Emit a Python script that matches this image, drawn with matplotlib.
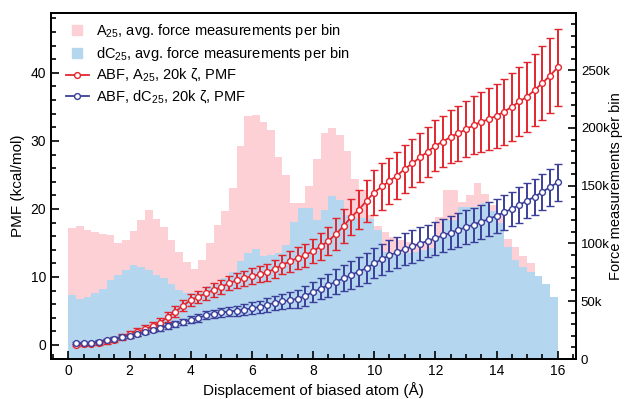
import numpy as np
import matplotlib
matplotlib.use("Agg")
import matplotlib.pyplot as plt
from matplotlib.lines import Line2D
from matplotlib.ticker import MultipleLocator, FuncFormatter

plt.rcParams['font.family'] = ['Liberation Sans', 'DejaVu Sans']
plt.rcParams['mathtext.fontset'] = 'custom'
plt.rcParams['mathtext.rm'] = 'Liberation Sans'

# ---------- data ----------
bin_width = 0.25
bin_left = np.arange(0, 16, bin_width)          # 64 bins, 0 .. 16 A

# avg. force measurements per bin (thousands)
a25_counts_k = [113, 115, 112, 110, 108, 107, 100, 103, 111, 120, 129, 121, 114, 103, 93, 84,
                78, 86, 100, 116, 128, 148, 184, 210, 211, 205, 198, 175, 159, 135, 135, 150,
                173, 196, 200, 194, 180, 156, 146, 125, 115, 110, 106, 103, 101, 100, 101, 103,
                123, 146, 146, 136, 142, 152, 143, 133, 126, 104, 97, 89, 83, 72, 65, 54]
dc25_counts_k = [55, 52, 54, 57, 61, 68, 73, 77, 81, 80, 77, 73, 70, 65, 60, 57,
                 57, 58, 63, 65, 70, 75, 85, 92, 95, 89, 90, 92, 99, 119, 131, 131,
                 120, 129, 141, 138, 125, 122, 122, 121, 112, 93, 92, 92, 92, 93, 94, 96,
                 106, 120, 120, 132, 132, 132, 135, 128, 118, 97, 86, 80, 75, 72, 65, 54]

# PMF points every 0.25 A
pmf_x = np.arange(1, 65) * 0.25
a25_pmf = [0.0, 0.1, 0.2, 0.35, 0.55, 0.8, 1.15, 1.55, 1.9, 2.3, 2.8, 3.3, 4.1, 4.9, 5.8, 6.6,
           7.1, 7.6, 8.1, 8.5, 9.1, 9.5, 9.8, 10.1, 10.4, 10.7, 11.2, 11.8, 12.3, 12.8, 13.2, 13.8,
           14.5, 15.3, 16.3, 17.5, 18.8, 19.9, 21.2, 22.4, 23.3, 24.1, 24.9, 25.9, 26.7, 27.6, 28.4, 29.3,
           29.9, 30.6, 31.1, 31.7, 32.3, 32.8, 33.2, 33.7, 34.3, 35.0, 35.8, 36.5, 37.5, 38.5, 39.6, 40.8]
a25_err = [0.2, 0.2, 0.25, 0.3, 0.35, 0.4, 0.45, 0.5, 0.55, 0.6, 0.65, 0.7, 0.75, 0.8, 0.8, 0.85,
           0.9, 0.95, 1.0, 1.0, 1.05, 1.1, 1.1, 1.15, 1.2, 1.25, 1.3, 1.4, 1.5, 1.6, 1.7, 1.8,
           1.95, 2.1, 2.3, 2.5, 2.7, 2.9, 3.1, 3.3, 3.4, 3.4, 3.45, 3.5, 3.55, 3.6, 3.65, 3.7,
           3.8, 3.9, 4.0, 4.1, 4.25, 4.4, 4.55, 4.7, 4.85, 4.95, 5.05, 5.15, 5.3, 5.4, 5.55, 5.7]
dc25_pmf = [0.25, 0.25, 0.35, 0.5, 0.7, 0.95, 1.15, 1.35, 1.65, 1.9, 2.2, 2.5, 2.8, 3.05, 3.35, 3.7,
            4.0, 4.35, 4.6, 4.8, 4.9, 5.05, 5.2, 5.4, 5.6, 5.9, 6.2, 6.4, 6.6, 6.8, 7.2, 7.8,
            8.3, 8.8, 9.3, 9.8, 10.3, 10.8, 11.3, 12.0, 12.6, 13.2, 13.6, 14.1, 14.5, 14.9, 15.3, 15.7,
            16.1, 16.5, 16.9, 17.3, 17.7, 18.1, 18.5, 19.0, 19.5, 20.0, 20.6, 21.2, 21.8, 22.5, 23.2, 23.9]
dc25_err = [0.15, 0.15, 0.15, 0.2, 0.2, 0.25, 0.25, 0.3, 0.3, 0.35, 0.35, 0.4, 0.4, 0.45, 0.45, 0.5,
            0.55, 0.6, 0.6, 0.65, 0.7, 0.75, 0.8, 0.85, 0.9, 1.0, 1.05, 1.1, 1.2, 1.3, 1.4, 1.5,
            1.6, 1.7, 1.8, 1.9, 2.0, 2.1, 2.15, 2.2, 2.25, 2.3, 2.3, 2.35, 2.4, 2.4, 2.4, 2.45,
            2.45, 2.45, 2.5, 2.5, 2.5, 2.5, 2.5, 2.5, 2.55, 2.55, 2.6, 2.6, 2.65, 2.7, 2.7, 2.75]

pink = '#fdd0d5'
lightblue = '#b4d6ef'
red = '#e3262e'
navy = '#3b3f99'

# ---------- figure ----------
fig = plt.figure(figsize=(6.24, 3.99), dpi=100)
ax = fig.add_axes([51 / 624, 40 / 399, 525 / 624, 346 / 399])
ax2 = ax.twinx()

ax2.bar(bin_left, np.array(a25_counts_k) * 1000, width=bin_width, align='edge',
        color=pink, linewidth=0)
ax2.bar(bin_left, np.array(dc25_counts_k) * 1000, width=bin_width, align='edge',
        color=lightblue, linewidth=0)

# PMF curves above the histograms
ax.set_zorder(ax2.get_zorder() + 1)
ax.patch.set_visible(False)

for y, e, c in [(a25_pmf, a25_err, red), (dc25_pmf, dc25_err, navy)]:
    ax.errorbar(pmf_x, y, yerr=e, fmt='-o', color=c, lw=1.3, elinewidth=1.4,
                capsize=2.8, capthick=1.4, markersize=4.2, markerfacecolor='white',
                markeredgecolor=c, markeredgewidth=1.0)

ax.set_xlim(-0.57, 16.6)
ax.set_ylim(-2.06, 48.8)
ax2.set_ylim(0, 299500)

ax.xaxis.set_major_locator(MultipleLocator(2))
ax.xaxis.set_minor_locator(MultipleLocator(0.5))
ax.yaxis.set_major_locator(MultipleLocator(10))
ax.yaxis.set_minor_locator(MultipleLocator(2))
ax2.yaxis.set_major_locator(MultipleLocator(50000))
ax2.yaxis.set_minor_locator(MultipleLocator(10000))
ax2.yaxis.set_major_formatter(FuncFormatter(lambda v, p: '0' if v == 0 else f'{int(v / 1000)}k'))

ax.tick_params(axis='both', which='both', direction='in', labelsize=10, width=1.2, top=False)
ax.tick_params(which='major', length=6)
ax.tick_params(which='minor', length=3.5)
ax2.tick_params(axis='y', which='both', direction='in', labelsize=9.5, width=1.2)
ax2.tick_params(which='major', length=6)
ax2.tick_params(which='minor', length=3.5)

for a in (ax, ax2):
    for s in a.spines.values():
        s.set_linewidth(1.3)

ax.set_xlabel('Displacement of biased atom (Å)', fontsize=11, labelpad=3)
ax.set_ylabel('PMF (kcal/mol)', fontsize=11, labelpad=4)
ax2.set_ylabel('Force measurements per bin', fontsize=10.5)
ax2.yaxis.set_label_coords(1.062, 0.5)

handles = [
    Line2D([], [], marker='s', ls='none', color=pink, markersize=7),
    Line2D([], [], marker='s', ls='none', color=lightblue, markersize=7),
    Line2D([], [], marker='o', ls='-', color=red, lw=1.3, markersize=4.2,
           markerfacecolor='white', markeredgewidth=1.0),
    Line2D([], [], marker='o', ls='-', color=navy, lw=1.3, markersize=4.2,
           markerfacecolor='white', markeredgewidth=1.0),
]
labels = [
    'A$_{25}$, avg. force measurements per bin',
    'dC$_{25}$, avg. force measurements per bin',
    'ABF, A$_{25}$, 20k ζ, PMF',
    'ABF, dC$_{25}$, 20k ζ, PMF',
]
ax.legend(handles, labels, loc='upper left', bbox_to_anchor=(0.017, 0.99),
          borderaxespad=0, frameon=False, fontsize=10.5, handlelength=1.6,
          handletextpad=0.5, labelspacing=0.3)

fig.savefig('out.png', dpi=100)
